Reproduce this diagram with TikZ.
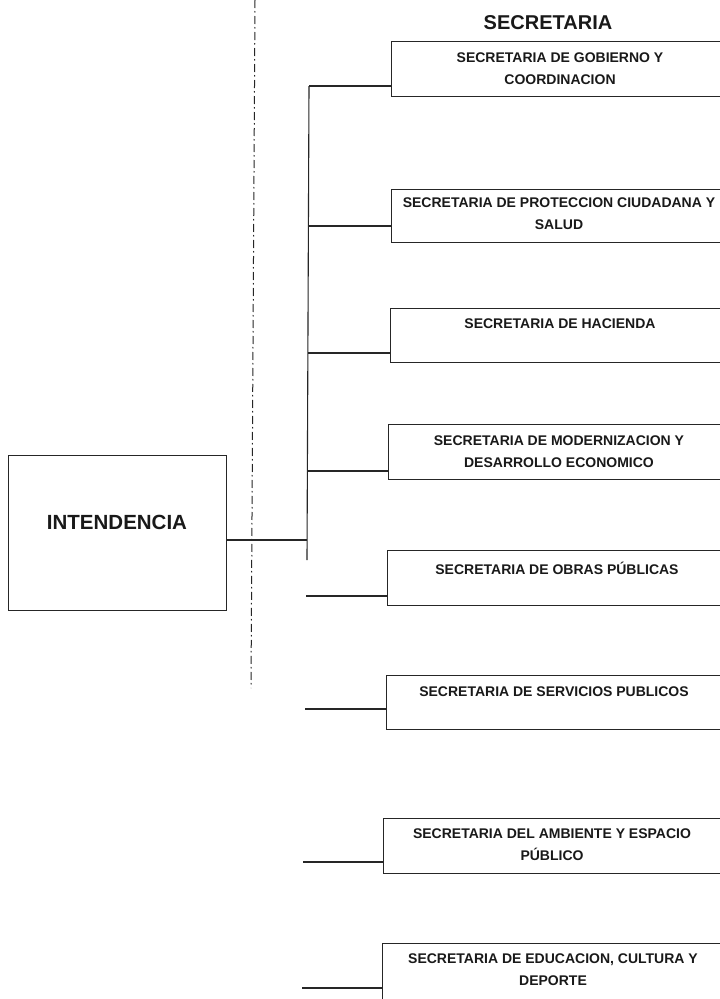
\documentclass[tikz,border=0pt]{standalone}
\usepackage{fontspec}
\setmainfont{Liberation Sans}
\begin{document}
\begin{tikzpicture}[x=1pt,y=-1pt,
  ln/.style={draw=black!85, line width=1.1pt},
  secbox/.style={draw=black!85, line width=1.1pt, rectangle, inner sep=0pt, anchor=north west},
  lbl/.style={font=\bfseries\fontsize{14}{22}\selectfont, text=black!90, align=center, inner sep=0pt},
  big/.style={font=\bfseries\fontsize{20.5}{24}\selectfont, text=black!90, inner sep=0pt}
]
\useasboundingbox (0,0) rectangle (720,999);
\clip (0,0) rectangle (720,999);
\fill[white] (0,0) rectangle (720,999);

% dash-dot separator
\coordinate (sepT) at (255,0);
\coordinate (sepB) at (251,688);
\draw[black!85, line width=1pt, dash pattern=on 8pt off 3pt on 1.5pt off 3.5pt] (sepT) -- (sepB);

% title
\node[big, font=\bfseries\fontsize{20}{24}\selectfont] (title) at (548,23) {SECRETARIA};

% intendencia
\node[draw=black!85, line width=1.1pt, rectangle, inner sep=0pt, anchor=north west,
      minimum width=218pt, minimum height=155pt] (int) at (8,455) {};
\node[big] (intl) at (117,522) {INTENDENCIA};

% boxes
\node[secbox, minimum width=340pt, minimum height=55pt] (b1) at (391,41) {};
\node[secbox, minimum width=340pt, minimum height=53pt] (b2) at (391,189) {};
\node[secbox, minimum width=340pt, minimum height=54pt] (b3) at (390,308) {};
\node[secbox, minimum width=340pt, minimum height=55pt] (b4) at (388,424) {};
\node[secbox, minimum width=340pt, minimum height=55pt] (b5) at (387,550) {};
\node[secbox, minimum width=340pt, minimum height=54pt] (b6) at (386,675) {};
\node[secbox, minimum width=340pt, minimum height=55pt] (b7) at (383,818) {};
\node[secbox, minimum width=340pt, minimum height=56pt] (b8) at (382,943) {};

% labels
\node[lbl] (t1) at (560,69) {SECRETARIA DE GOBIERNO Y\\COORDINACION};
\node[lbl] (t2) at (559,214) {SECRETARIA DE PROTECCION CIUDADANA Y\\SALUD};
\node[lbl] (t3) at (560,324) {SECRETARIA DE HACIENDA};
\node[lbl] (t4) at (559,451.5) {SECRETARIA DE MODERNIZACION Y\\DESARROLLO ECONOMICO};
\node[lbl] (t5) at (557,568) {SECRETARIA DE OBRAS PÚBLICAS};
\node[lbl] (t6) at (554,692) {SECRETARIA DE SERVICIOS PUBLICOS};
\node[lbl] (t7) at (552,844.5) {SECRETARIA DEL AMBIENTE Y ESPACIO\\PÚBLICO};
\node[lbl] (t8) at (553,970) {SECRETARIA DE EDUCACION, CULTURA Y\\DEPORTE};

% trunk
\coordinate (trT) at (309,86);
\coordinate (trB) at (307,560);
\draw[ln] (trT) -- (trB);

% connector from intendencia
\coordinate (jInt) at (307,540);
\draw[ln] (int.east |- jInt) -- (jInt);

% branches
\coordinate (c1) at (309,86);
\coordinate (c2) at (309,226);
\coordinate (c3) at (308,353);
\coordinate (c4) at (308,471);
\coordinate (c5) at (306,596);
\coordinate (c6) at (305,709);
\coordinate (c7) at (303,862);
\coordinate (c8) at (302,988);
\draw[ln] (c1) -- (c1 -| b1.west);
\draw[ln] (c2) -- (c2 -| b2.west);
\draw[ln] (c3) -- (c3 -| b3.west);
\draw[ln] (c4) -- (c4 -| b4.west);
\draw[ln] (c5) -- (c5 -| b5.west);
\draw[ln] (c6) -- (c6 -| b6.west);
\draw[ln] (c7) -- (c7 -| b7.west);
\draw[ln] (c8) -- (c8 -| b8.west);
\end{tikzpicture}
\end{document}
